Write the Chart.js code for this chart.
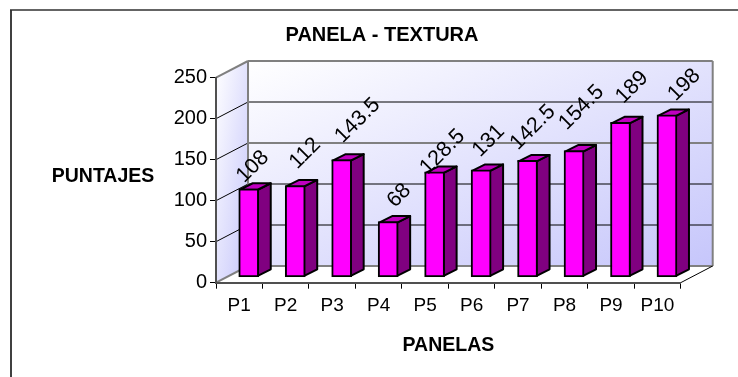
<!DOCTYPE html>
<html>
<head>
<meta charset="utf-8">
<title>PANELA - TEXTURA</title>
<script src="https://cdn.jsdelivr.net/npm/chart.js@4/dist/chart.umd.min.js"></script>
<style>
  html, body { margin: 0; padding: 0; background: #fff; overflow: hidden; }
  canvas { display: block; }
</style>
</head>
<body>
<canvas id="chart" width="738" height="377"></canvas>
<script>
// Puntajes del panel sensorial de textura
const panels = ['P1', 'P2', 'P3', 'P4', 'P5', 'P6', 'P7', 'P8', 'P9', 'P10'];
const scores = [108, 112, 143.5, 68, 128.5, 131, 142.5, 154.5, 189, 198];
const scoreTicks = [0, 50, 100, 150, 200, 250];

const chartTitle = 'PANELA - TEXTURA';
const yAxisTitle = 'PUNTAJES';
const xAxisTitle = 'PANELAS';

const FONT = '"Liberation Sans", Arial, sans-serif';

// Box depth of the walls and of the bars, in canvas pixels
const wallDepth = { x: 32, y: -16.7 };
const barOffset = { x: 9.5, y: -5.4 };
const barDepth = { x: 13, y: -6.5 };

// Centre of each slanted value label, relative to the top of its bar's front face
const labelShiftX = [4, 10, 16, 11, 8, 7.6, 5.4, 7.5, 11.6, 17.4];
const labelShiftY = [-22, -32, -39, -26, -20, -29, -33, -43, -35, -30];

function polygon(ctx, pts) {
  ctx.beginPath();
  pts.forEach((p, i) => (i ? ctx.lineTo(p[0], p[1]) : ctx.moveTo(p[0], p[1])));
  ctx.closePath();
}

function segment(ctx, x1, y1, x2, y2, color, width) {
  ctx.strokeStyle = color;
  ctx.lineWidth = width;
  ctx.beginPath();
  ctx.moveTo(x1, y1);
  ctx.lineTo(x2, y2);
  ctx.stroke();
}

// Gradient whose bands run parallel to the rectangle's anti-diagonal
function diagonalGradient(ctx, x, y, w, h, from, to) {
  const k = (w * h) / (w * w + h * h);
  const cx = x + w / 2, cy = y + h / 2;
  const g = ctx.createLinearGradient(cx - k * h, cy - k * w, cx + k * h, cy + k * w);
  g.addColorStop(0, from);
  g.addColorStop(1, to);
  return g;
}

// Frame, back wall, side wall and their grid lines
const wallsPlugin = {
  id: 'walls',
  beforeDraw(chart) {
    const { ctx, scales: { x, y } } = chart;
    const l = x.left, r = x.right, t = y.top, b = y.bottom;
    const dx = wallDepth.x, dy = wallDepth.y;
    ctx.save();

    segment(ctx, 11, 10, 11, 377, '#404040', 2);
    segment(ctx, 10, 10, 738, 10, '#303030', 1.5);

    ctx.fillStyle = diagonalGradient(ctx, l + dx, t + dy, r - l, b - t, '#ffffff', '#c6c6fb');
    ctx.fillRect(l + dx, t + dy, r - l, b - t);

    ctx.fillStyle = diagonalGradient(ctx, l, t + dy, dx, b - t - dy, '#ffffff', '#c6c6fb');
    polygon(ctx, [[l, t], [l + dx, t + dy], [l + dx, b + dy], [l, b]]);
    ctx.fill();

    scoreTicks.forEach(v => {
      const py = y.getPixelForValue(v);
      const edge = v === 0 || v === 150 || v === 250;
      const side = v === 0 || v === 250;
      segment(ctx, l, py, l + dx, py + dy, side ? '#808080' : '#000000', side ? 2 : 1);
      segment(ctx, l + dx, py + dy, r + dx, py + dy, edge ? '#808080' : '#000000', edge ? 2 : 1);
    });
    segment(ctx, l + dx, t + dy, l + dx, b + dy, '#808080', 2);
    segment(ctx, r + dx, t + dy, r + dx, b + dy, '#808080', 2);
    segment(ctx, r, b, r + dx, b + dy, '#000000', 1);

    ctx.fillStyle = '#000';
    ctx.textAlign = 'center';
    ctx.textBaseline = 'middle';
    ctx.font = 'bold 20px ' + FONT;
    ctx.fillText(chartTitle, 382, 35);
    ctx.font = 'bold 19.5px ' + FONT;
    ctx.fillText(yAxisTitle, 103, 177);
    ctx.restore();
  }
};

// Shifts the bars into the box and adds their side and top faces
const bars3dPlugin = {
  id: 'bars3d',
  beforeDatasetDraw(chart, args) {
    const { ctx } = chart;
    const ex = barDepth.x, ey = barDepth.y;
    ctx.save();
    ctx.translate(barOffset.x, barOffset.y);
    ctx.lineWidth = 2;
    ctx.lineJoin = 'round';
    ctx.strokeStyle = '#000';
    args.meta.data.forEach(el => {
      const right = el.x + el.width / 2 - 1, left = el.x - el.width / 2 + 1;
      const top = el.y + 1, bottom = el.base - 1;
      polygon(ctx, [[right, top], [right + ex, top + ey], [right + ex, bottom + ey], [right, bottom]]);
      ctx.fillStyle = '#800080';
      ctx.fill();
      ctx.stroke();
      polygon(ctx, [[left, top], [left + ex, top + ey], [right + ex, top + ey], [right, top]]);
      ctx.fillStyle = '#c000c0';
      ctx.fill();
      ctx.stroke();
    });
  },
  afterDatasetDraw(chart) {
    chart.ctx.restore();
  },
  afterDatasetsDraw(chart) {
    const { ctx } = chart;
    const bars = chart.getDatasetMeta(0).data;
    ctx.save();
    ctx.fillStyle = '#000';
    ctx.font = '21.5px ' + FONT;
    ctx.textAlign = 'center';
    ctx.textBaseline = 'middle';
    bars.forEach((el, i) => {
      ctx.save();
      ctx.translate(el.x + barOffset.x + labelShiftX[i], el.y + barOffset.y + labelShiftY[i]);
      ctx.rotate(-Math.PI / 4);
      ctx.fillText(String(scores[i]), 0, 0);
      ctx.restore();
    });
    ctx.restore();
  }
};

new Chart(document.getElementById('chart'), {
  type: 'bar',
  data: {
    labels: panels,
    datasets: [{
      data: scores,
      backgroundColor: '#ff00ff',
      borderColor: '#000000',
      borderWidth: 2,
      borderSkipped: false,
      barThickness: 20
    }]
  },
  plugins: [wallsPlugin, bars3dPlugin],
  options: {
    responsive: false,
    animation: false,
    layout: { padding: { top: 77.7, right: 57.3, bottom: 20, left: 0 } },
    plugins: { legend: { display: false }, title: { display: false }, tooltip: { enabled: false } },
    scales: {
      x: {
        afterFit(scale) { scale.height = 74.3; },
        grid: { drawOnChartArea: false, color: '#000', tickLength: 6, lineWidth: 1 },
        border: { color: '#505050', width: 2 },
        ticks: { color: '#000', font: { family: FONT, size: 19 }, padding: 6, maxRotation: 0, autoSkip: false },
        title: { display: true, text: xAxisTitle, color: '#000', font: { family: FONT, size: 19.5, weight: 'bold' }, padding: { top: 11, bottom: 0 } }
      },
      y: {
        min: 0,
        max: 250,
        afterFit(scale) { scale.width = 216; },
        afterBuildTicks(scale) { scale.ticks = scoreTicks.map(value => ({ value })); },
        grid: { drawOnChartArea: false, color: '#000', tickLength: 6, lineWidth: 1 },
        border: { color: '#505050', width: 2 },
        ticks: { color: '#000', font: { family: FONT, size: 20 }, padding: 3 }
      }
    }
  }
});
</script>
</body>
</html>
